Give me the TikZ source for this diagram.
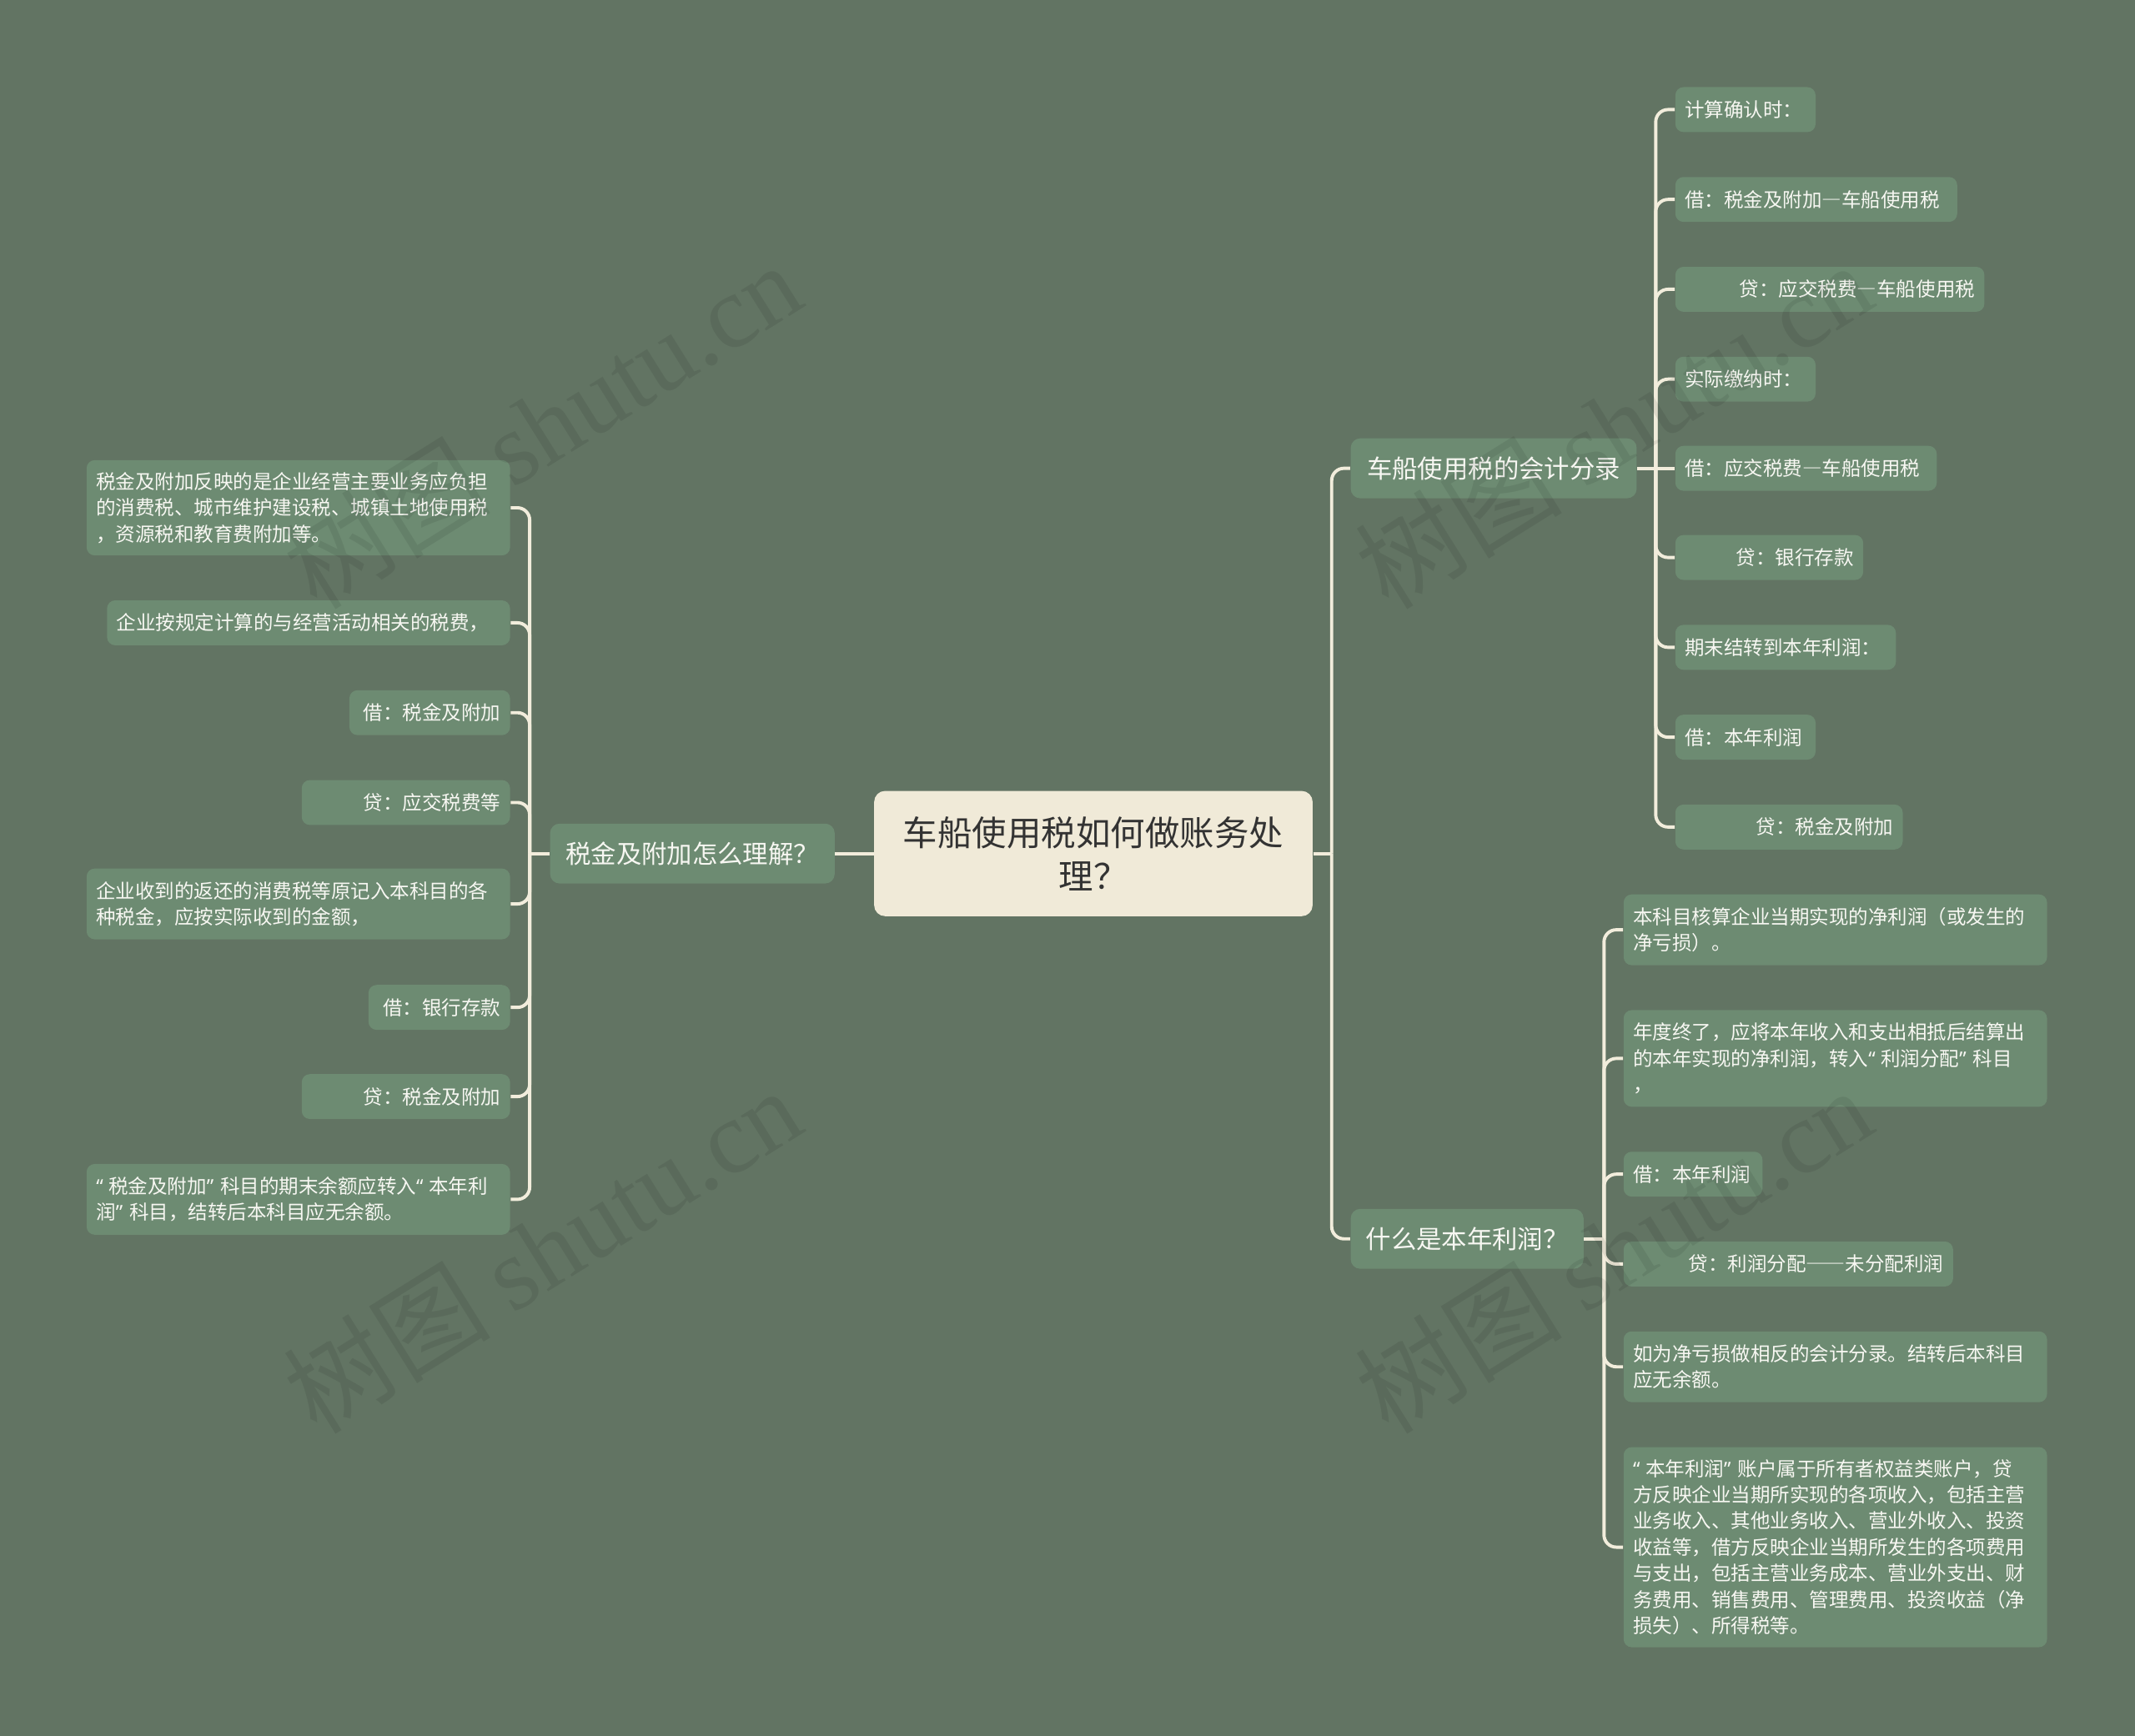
\documentclass[tikz,border=0pt]{standalone}
\usepackage{fontspec}
\newfontfamily\cjk{Noto Sans CJK SC}
\newfontfamily\cjkfw[RawFeature=+fwid]{Noto Sans CJK SC}
\newfontfamily\qfont{Noto Sans}
\newfontfamily\wmserif{Liberation Serif}
\newcommand\oq{{\qfont “}\kern2pt}
\newcommand\cq{{\qfont ”}\kern2.4pt}
\newcommand\emd{{\cjkfw —}}
\definecolor{bgc}{HTML}{627463}
\definecolor{boxc}{HTML}{6D8B72}
\definecolor{linec}{HTML}{F2EDDC}
\definecolor{rootc}{HTML}{F0EAD8}
\definecolor{roottxt}{HTML}{333333}
\definecolor{leaftxt}{HTML}{F7F7F2}
\tikzset{
  leafbox/.style={fill=boxc, rounded corners=3pt, inner xsep=3.5pt, inner ysep=0pt,
    text=leaftxt, font=\cjk\fontsize{7.2}{9.6}\selectfont, minimum height=16.5pt},
  branchbox/.style={fill=boxc, rounded corners=3.5pt, inner sep=0pt, text=leaftxt,
    font=\cjk\fontsize{9.3}{11}\selectfont, minimum height=22pt, align=center},
  rootbox/.style={fill=rootc, rounded corners=4pt, inner sep=0pt, text=roottxt,
    font=\cjk\fontsize{12.7}{16}\selectfont, minimum width=161pt, minimum height=46pt, align=center},
  conn/.style={draw=linec, line width=1.2pt},
  rc/.style={rounded corners=4.5pt},
  wm/.style={text=black, text opacity=0.08, inner sep=0pt, rotate=32},
}
\begin{document}
\begin{tikzpicture}[x=0.5pt,y=-0.5pt]
\fill[bgc] (0,0) rectangle (1568,1275);
\useasboundingbox (0,0) rectangle (1568,1275);

% root and branches
\node[rootbox] (root) at (803,627) {车船使用税如何做账务处\\理？};
\node[branchbox, minimum width=104.5pt] (bl) at (508.5,627) {税金及附加怎么理解？};
\node[branchbox, minimum width=105pt] (br1) at (1097,344) {车船使用税的会计分录};
\node[branchbox, minimum width=85.5pt] (br2) at (1077.5,910) {什么是本年利润？};

% left leaves
\node[leafbox, anchor=east, text width=148.5pt, align=left, minimum height=35pt] (l1) at (375,373)
  {税金及附加反映的是企业经营主要业务应负担\\的消费税、城市维护建设税、城镇土地使用税\\，资源税和教育费附加等。};
\node[leafbox, anchor=east, text width=141pt, align=left] (l2) at (375,457.5)
  {企业按规定计算的与经营活动相关的税费，};
\node[leafbox, anchor=east, text width=52pt, align=right] (l3) at (375,523.5)
  {借：税金及附加};
\node[leafbox, anchor=east, text width=69.5pt, align=right] (l4) at (375,589.5)
  {贷：应交税费等};
\node[leafbox, anchor=east, text width=148.5pt, align=left, minimum height=26pt] (l5) at (375,664)
  {企业收到的返还的消费税等原记入本科目的各\\种税金，应按实际收到的金额，};
\node[leafbox, anchor=east, text width=45pt, align=right] (l6) at (375,740)
  {借：银行存款};
\node[leafbox, anchor=east, text width=69.5pt, align=right] (l7) at (375,805.5)
  {贷：税金及附加};
\node[leafbox, anchor=east, text width=148.5pt, align=left, minimum height=26pt] (l8) at (375,881)
  {\oq 税金及附加\cq 科目的期末余额应转入\oq 本年利\\润\cq 科目，结转后本科目应无余额。};

% right branch 1 leaves
\node[leafbox, anchor=west, text width=44.5pt, align=left] (r1) at (1230,80.5) {计算确认时：};
\node[leafbox, anchor=west, text width=96.5pt, align=left] (r2) at (1230,146.5) {借：税金及附加\emd 车船使用税};
\node[leafbox, anchor=west, text width=106.5pt, align=right] (r3) at (1230,212.5) {贷：应交税费\emd 车船使用税};
\node[leafbox, anchor=west, text width=44.5pt, align=left] (r4) at (1230,278.5) {实际缴纳时：};
\node[leafbox, anchor=west, text width=89pt, align=left] (r5) at (1230,344) {借：应交税费\emd 车船使用税};
\node[leafbox, anchor=west, text width=62pt, align=right] (r6) at (1230,409.5) {贷：银行存款};
\node[leafbox, anchor=west, text width=74pt, align=left] (r7) at (1230,475.5) {期末结转到本年利润：};
\node[leafbox, anchor=west, text width=44.5pt, align=left] (r8) at (1230,541.5) {借：本年利润};
\node[leafbox, anchor=west, text width=76.5pt, align=right] (r9) at (1230,607.5) {贷：税金及附加};

% right branch 2 leaves
\node[leafbox, anchor=west, text width=148.5pt, align=left, minimum height=26pt] (s1) at (1192,683)
  {本科目核算企业当期实现的净利润（或发生的\\净亏损）。};
\node[leafbox, anchor=west, text width=148.5pt, align=left, minimum height=35.5pt] (s2) at (1192,777.5)
  {年度终了，应将本年收入和支出相抵后结算出\\的本年实现的净利润，转入\oq 利润分配\cq 科目\\，};
\node[leafbox, anchor=west, text width=44pt, align=left] (s3) at (1192,862.5) {借：本年利润};
\node[leafbox, anchor=west, text width=114pt, align=right] (s4) at (1192,928.5) {贷：利润分配\emd\emd 未分配利润};
\node[leafbox, anchor=west, text width=148.5pt, align=left, minimum height=26pt] (s5) at (1192,1004)
  {如为净亏损做相反的会计分录。结转后本科目\\应无余额。};
\node[leafbox, anchor=west, text width=148.5pt, align=left, minimum height=73.5pt] (s6) at (1192,1136.5)
  {\oq 本年利润\cq 账户属于所有者权益类账户，贷\\方反映企业当期所实现的各项收入，包括主营\\业务收入、其他业务收入、营业外收入、投资\\收益等，借方反映企业当期所发生的各项费用\\与支出，包括主营业务成本、营业外支出、财\\务费用、销售费用、管理费用、投资收益（净\\损失）、所得税等。};

% junction coordinates
\coordinate (jR) at (978,627);
\coordinate (jL) at (389,627);
\coordinate (j1) at (1216,344);
\coordinate (j2) at (1178,910);

% connectors
\draw[conn] (root.east) -- (jR);
\draw[conn,rc] (jR) -- (jR |- br1.west) -- (br1.west);
\draw[conn,rc] (jR) -- (jR |- br2.west) -- (br2.west);
\draw[conn] (root.west) -- (bl.east);

\draw[conn] (bl.west) -- (jL);
\foreach \n in {l1,l2,l3,l4,l5,l6,l7,l8}
  \draw[conn,rc] (jL) -- (jL |- \n.east) -- (\n.east);

\draw[conn] (br1.east) -- (j1);
\foreach \n in {r1,r2,r3,r4,r6,r7,r8,r9}
  \draw[conn,rc] (j1) -- (j1 |- \n.west) -- (\n.west);
\draw[conn] (j1) -- (r5.west);

\draw[conn] (br2.east) -- (j2);
\foreach \n in {s1,s2,s3,s4,s5,s6}
  \draw[conn,rc] (j2) -- (j2 |- \n.west) -- (\n.west);

% watermarks
\node[wm] (wm1) at (398,312) {\fontsize{38}{40}\selectfont\cjk 树图 \wmserif shutu.cn};
\node[wm] (wm2) at (398,918) {\fontsize{38}{40}\selectfont\cjk 树图 \wmserif shutu.cn};
\node[wm] (wm3) at (1185,312) {\fontsize{38}{40}\selectfont\cjk 树图 \wmserif shutu.cn};
\node[wm] (wm4) at (1185,918) {\fontsize{38}{40}\selectfont\cjk 树图 \wmserif shutu.cn};
\end{tikzpicture}
\end{document}
